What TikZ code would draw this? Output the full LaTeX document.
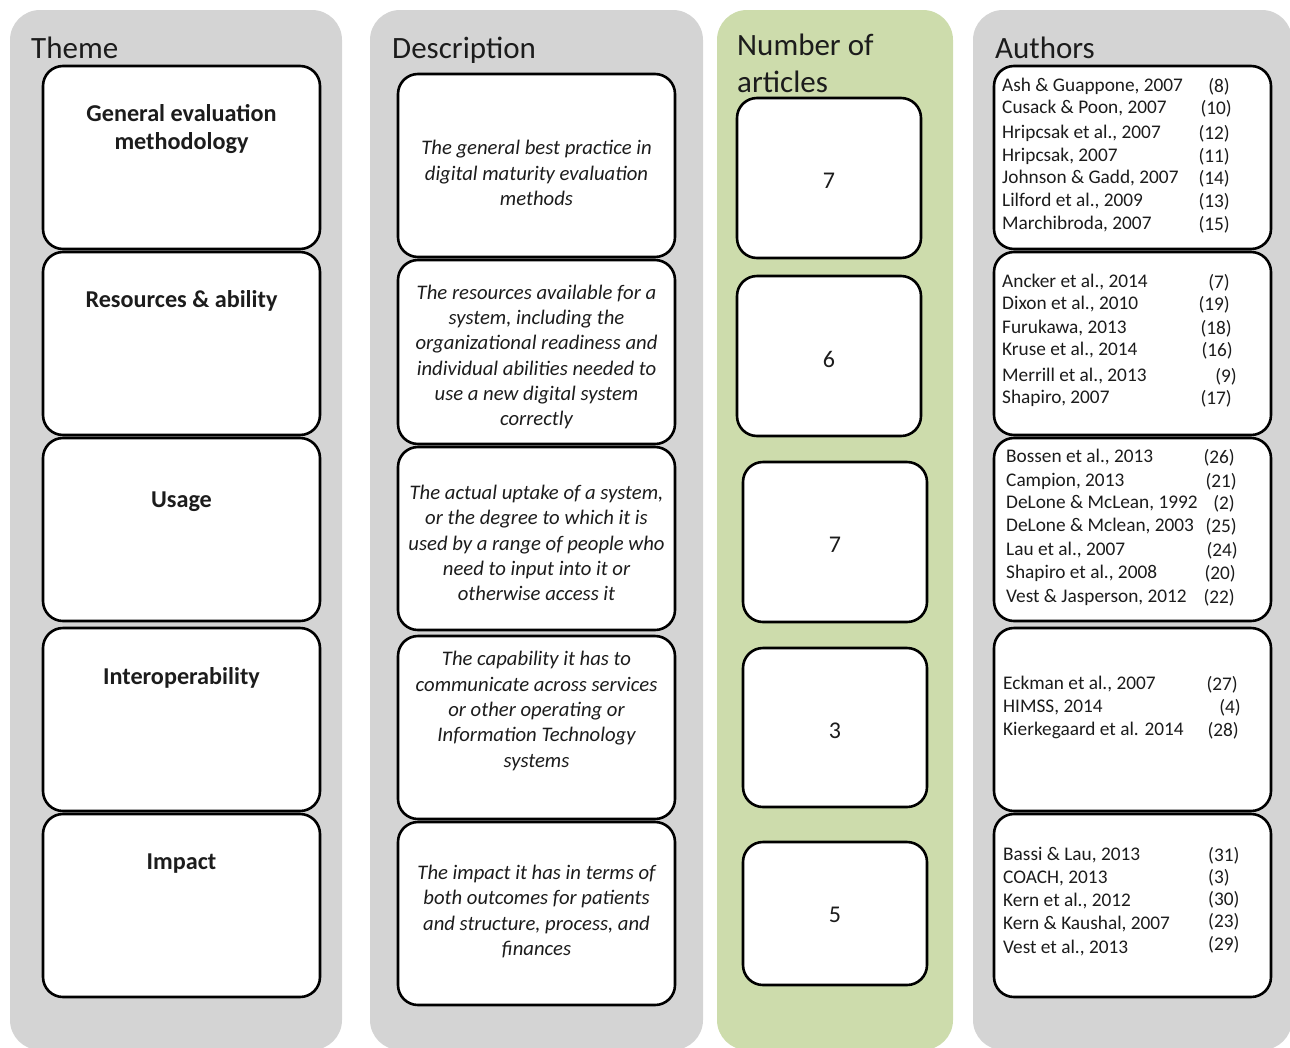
\documentclass[tikz,border=0pt]{standalone}
\usepackage{fontspec}
\setmainfont{Carlito}
\definecolor{colgray}{RGB}{212,212,212}
\definecolor{colgreen}{RGB}{205,220,172}
\definecolor{txt}{RGB}{28,28,28}
\begin{document}
\begin{tikzpicture}[x=1pt,y=-1pt,
  colbg/.style={rounded corners=30pt},
  box/.style={draw=black, line width=2.6pt, fill=white, rounded corners=20pt, inner sep=0pt},
  hdr/.style={font=\fontsize{31}{37}\selectfont, anchor=base west, text=txt, inner sep=0pt},
  theme/.style={font=\bfseries\fontsize{24.2}{28}\selectfont, align=center, text=txt, inner sep=0pt, yshift=-2pt},
  desc/.style={font=\itshape\fontsize{20.7}{25.3}\selectfont, align=center, text=txt, inner sep=0pt, yshift=-1pt},
  num/.style={font=\fontsize{24}{28}\selectfont, text=txt, inner sep=0pt},
  au/.style={font=\fontsize{19.3}{22}\selectfont, anchor=west, text=txt, inner sep=0pt, yshift=-1.5pt},
  rf/.style={font=\fontsize{19.3}{22}\selectfont, anchor=east, text=txt, inner sep=0pt, yshift=-1.5pt},
  rfl/.style={font=\fontsize{19.3}{22}\selectfont, anchor=west, text=txt, inner sep=0pt, yshift=-1.5pt}]
\useasboundingbox (0,0) rectangle (1290,1047);
\clip (0,0) rectangle (1290,1047);
% column backgrounds
\fill[colgray, colbg] (10,10) rectangle (342,1050);
\fill[colgray, colbg] (370,10) rectangle (703,1050);
\fill[colgreen, colbg] (717,10) rectangle (953,1050);
\fill[colgray, colbg] (973,10) rectangle (1292,1050);
% headers
\node[hdr] (hTheme) at (31,58) {Theme};
\node[hdr] (hDesc) at (392,58) {Description};
\node[hdr] (hNum1) at (737,55) {Number of};
\node[hdr] (hNum2) at (737,92) {articles};
\node[hdr] (hAuth) at (995,58) {Authors};
% theme boxes
\node[box, minimum width=277, minimum height=183] (t1) at (181.5,157.5) {};
\node[box, minimum width=277, minimum height=183] (t2) at (181.5,343.5) {};
\node[box, minimum width=277, minimum height=183] (t3) at (181.5,529.5) {};
\node[box, minimum width=277, minimum height=183] (t4) at (181.5,719.5) {};
\node[box, minimum width=277, minimum height=183] (t5) at (181.5,905.5) {};
\node[theme] (tt1) at (181.5,127) {General evaluation\\methodology};
\node[theme] (tt2) at (181.5,299) {Resources \& ability};
\node[theme] (tt3) at (181.5,500) {Usage};
\node[theme] (tt4) at (181.5,676) {Interoperability};
\node[theme] (tt5) at (181.5,862) {Impact};
% description boxes
\node[box, minimum width=277, minimum height=183] (d1) at (536.5,165.5) {};
\node[box, minimum width=277, minimum height=184] (d2) at (536.5,352) {};
\node[box, minimum width=277, minimum height=183] (d3) at (536.5,538.5) {};
\node[box, minimum width=277, minimum height=183] (d4) at (536.5,727.5) {};
\node[box, minimum width=277, minimum height=183] (d5) at (536.5,913.5) {};
\node[desc] (dt1) at (536.5,172) {The general best practice in\\digital maturity evaluation\\methods};
\node[desc] (dt2) at (536.5,356) {The resources available for a\\system, including the\\organizational readiness and\\individual abilities needed to\\use a new digital system\\correctly};
\node[desc] (dt3) at (536.5,542) {The actual uptake of a system,\\or the degree to which it is\\used by a range of people who\\need to input into it or\\otherwise access it};
\node[desc] (dt4) at (536.5,710) {The capability it has to\\communicate across services\\or other operating or\\Information Technology\\systems};
\node[desc] (dt5) at (536.5,910.5) {The impact it has in terms of\\both outcomes for patients\\and structure, process, and\\finances};
% number boxes
\node[box, minimum width=184, minimum height=160] (n1) at (829,178) {};
\node[box, minimum width=184, minimum height=160] (n2) at (829,356) {};
\node[box, minimum width=184, minimum height=160] (n3) at (835,542) {};
\node[box, minimum width=184, minimum height=159] (n4) at (835,727.5) {};
\node[box, minimum width=184, minimum height=143] (n5) at (835,913.5) {};
\node[num] (nt1) at (829,181) {7};
\node[num] (nt2) at (829,359) {6};
\node[num] (nt3) at (835,545) {7};
\node[num] (nt4) at (835,731) {3};
\node[num] (nt5) at (835,915) {5};
% author boxes
\node[box, minimum width=277, minimum height=183] (a1) at (1132.5,157.5) {};
\node[box, minimum width=277, minimum height=183] (a2) at (1132.5,343.5) {};
\node[box, minimum width=277, minimum height=183] (a3) at (1132.5,529.5) {};
\node[box, minimum width=277, minimum height=183] (a4) at (1132.5,719.5) {};
\node[box, minimum width=277, minimum height=183] (a5) at (1132.5,905.5) {};
% authors box 1
\node[au] (a1n1) at (1002,85) {Ash \& Guappone, 2007};
\node[au] (a1n2) at (1002,107) {Cusack \& Poon, 2007};
\node[au] (a1n3) at (1002,132) {Hripcsak et al., 2007};
\node[au] (a1n4) at (1002,155) {Hripcsak, 2007};
\node[au] (a1n5) at (1002,177) {Johnson \& Gadd, 2007};
\node[au] (a1n6) at (1002,200) {Lilford et al., 2009};
\node[au] (a1n7) at (1002,223) {Marchibroda, 2007};
\node[rf] (a1r1) at (1230,85) {(8)};
\node[rf] (a1r2) at (1232,107) {(10)};
\node[rf] (a1r3) at (1230,132) {(12)};
\node[rf] (a1r4) at (1230,155) {(11)};
\node[rf] (a1r5) at (1230,177) {(14)};
\node[rf] (a1r6) at (1230,200) {(13)};
\node[rf] (a1r7) at (1230,223) {(15)};
% authors box 2
\node[au] (a2n1) at (1002,281) {Ancker et al., 2014};
\node[au] (a2n2) at (1002,303) {Dixon et al., 2010};
\node[au] (a2n3) at (1002,327) {Furukawa, 2013};
\node[au] (a2n4) at (1002,349) {Kruse et al., 2014};
\node[au] (a2n5) at (1002,375) {Merrill et al., 2013};
\node[au] (a2n6) at (1002,397) {Shapiro, 2007};
\node[rf] (a2r1) at (1230,281) {(7)};
\node[rf] (a2r2) at (1230,303) {(19)};
\node[rf] (a2r3) at (1232,327) {(18)};
\node[rf] (a2r4) at (1233,349) {(16)};
\node[rf] (a2r5) at (1237,375) {(9)};
\node[rf] (a2r6) at (1232,397) {(17)};
% authors box 3
\node[au] (a3n1) at (1006,456) {Bossen et al., 2013};
\node[au] (a3n2) at (1006,480) {Campion, 2013};
\node[au] (a3n3) at (1006,502) {DeLone \& McLean, 1992};
\node[au] (a3n4) at (1006,525) {DeLone \& Mclean, 2003};
\node[au] (a3n5) at (1006,549) {Lau et al., 2007};
\node[au] (a3n6) at (1006,572) {Shapiro et al., 2008};
\node[au] (a3n7) at (1006,596) {Vest \& Jasperson, 2012};
\node[rf] (a3r1) at (1235,456) {(26)};
\node[rf] (a3r2) at (1237,480) {(21)};
\node[rf] (a3r3) at (1235,502) {(2)};
\node[rf] (a3r4) at (1237,525) {(25)};
\node[rf] (a3r5) at (1238,549) {(24)};
\node[rf] (a3r6) at (1236,572) {(20)};
\node[rf] (a3r7) at (1235,596) {(22)};
% authors box 4
\node[au] (a4n1) at (1003,683) {Eckman et al., 2007};
\node[au] (a4n2) at (1003,706) {HIMSS, 2014};
\node[au] (a4n3) at (1003,729) {Kierkegaard et al. 2014};
\node[rf] (a4r1) at (1238,683) {(27)};
\node[rf] (a4r2) at (1241,706) {(4)};
\node[rf] (a4r3) at (1239,729) {(28)};
% authors box 5
\node[au] (a5n1) at (1003,854) {Bassi \& Lau, 2013};
\node[au] (a5n2) at (1003,877) {COACH, 2013};
\node[au] (a5n3) at (1003,900) {Kern et al., 2012};
\node[au] (a5n4) at (1003,923) {Kern \& Kaushal, 2007};
\node[au] (a5n5) at (1003,947) {Vest et al., 2013};
\node[rfl] (a5r1) at (1208,854) {(31)};
\node[rfl] (a5r2) at (1208,876) {(3)};
\node[rfl] (a5r3) at (1208,898) {(30)};
\node[rfl] (a5r4) at (1208,920) {(23)};
\node[rfl] (a5r5) at (1208,943) {(29)};
\end{tikzpicture}
\end{document}
